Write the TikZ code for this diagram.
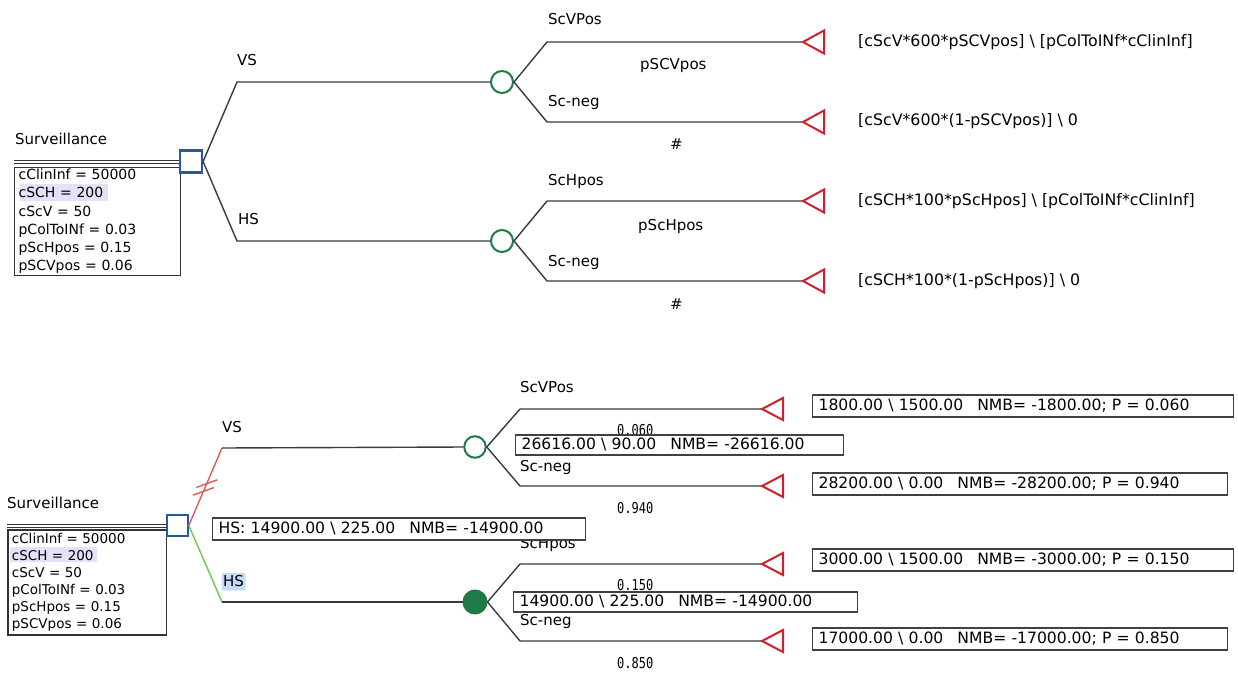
\documentclass[tikz,border=0pt]{standalone}
\usepackage{fontspec}
\setmainfont{DejaVu Sans}
\newfontfamily\probmono[FakeStretch=0.8]{DejaVu Sans Mono}
\usetikzlibrary{calc}
\definecolor{decblue}{HTML}{2A55A8}
\definecolor{chgreen}{HTML}{1F7A45}
\definecolor{termred}{HTML}{D0202E}
\definecolor{optred}{HTML}{E05A5A}
\definecolor{optgreen}{HTML}{6CCB4E}
\definecolor{lineclr}{HTML}{3A3A3A}
\definecolor{hilav}{HTML}{E2E2F8}
\definecolor{hiblue}{HTML}{C6DBF7}
\newcommand\gp{\hspace{0.9em}}
\begin{document}
\begin{tikzpicture}[x=1pt,y=-1pt,
  lbl/.style={anchor=west,inner sep=0,font=\fontsize{15}{18}\selectfont,text height=11,text depth=3},
  expr/.style={lbl,font=\fontsize{15.8}{18}\selectfont},
  prob/.style={anchor=west,inner sep=0,font=\probmono\fontsize{15}{17}\selectfont,text height=11,text depth=0},
  decision/.style={draw=decblue,line width=2.2,fill=white,minimum size=22,inner sep=0},
  chance/.style={circle,draw=chgreen,line width=2,fill=white,minimum size=22,inner sep=0},
  chancefull/.style={chance,fill=chgreen},
  branch/.style={draw=lineclr,line width=1.4},
  termtri/.style={draw=termred,line width=2,line join=miter},
  parambox/.style={draw=black!80,line width=1.2,anchor=north west,align=left,inner xsep=4},
  paybox/.style={draw=black!75,line width=1.2,fill=white,anchor=west,inner xsep=6,inner ysep=0,
    minimum height=22,font=\fontsize{15.6}{18}\selectfont,text height=11.5,text depth=3.5},
  sumbox/.style={paybox,minimum height=20,text height=11.5,text depth=3.5},
  dbl/.style={draw=black!80,line width=0.9}
]
\useasboundingbox (0,0) rectangle (1238,672);

% ================= tree with formulas =================
\node[lbl] (title1) at (15,140) {Surveillance};
\fill[hilav] (20,184) rectangle (108,201);
\node[parambox,text width=158,font=\fontsize{14}{18.3}\selectfont,inner ysep=1.5] (par1) at (14,166.7)
  {cClinInf = 50000\\cSCH = 200\\cScV = 50\\pColToINf = 0.03\\pScHpos = 0.15\\pSCVpos = 0.06};
\node[decision] (sq1) at (191,161.5) {};
\draw[dbl] (14,160.3) -- (sq1.west |- 0,160.3);
\draw[dbl] (14,163.6) -- (sq1.west |- 0,163.6);

\coordinate (vs1) at (237,82);
\coordinate (hs1) at (237,241);
\node[chance] (cv1) at (502,82) {};
\node[chance] (ch1) at (502,241) {};
\draw[branch] (sq1.east) -- (vs1) -- (cv1.west);
\draw[branch] (sq1.east) -- (hs1) -- (ch1.west);

\coordinate (t1) at (803,42);
\coordinate (t2) at (803,122);
\coordinate (t3) at (803,201);
\coordinate (t4) at (803,281);
\coordinate (v1a) at (547,42);
\coordinate (v1b) at (547,122);
\coordinate (h1a) at (547,201);
\coordinate (h1b) at (547,281);
\draw[branch] (cv1.east) -- (v1a) -- (t1);
\draw[branch] (cv1.east) -- (v1b) -- (t2);
\draw[branch] (ch1.east) -- (h1a) -- (t3);
\draw[branch] (ch1.east) -- (h1b) -- (t4);
\foreach \t in {t1,t2,t3,t4}
  \draw[termtri] (\t) -- ++(21,-11.5) -- ++(0,23) -- cycle;

\node[lbl] (lvs1) at (237,61) {VS};
\node[lbl] (lhs1) at (238,220) {HS};
\node[lbl] (lsv1) at (548,20) {ScVPos};
\node[lbl] (lpv1) at (640,65) {pSCVpos};
\node[lbl] (lnv1) at (548,102) {Sc-neg};
\node[lbl] (lhv1) at (670,145) {\#};
\node[lbl] (lsh1) at (548,181) {ScHpos};
\node[lbl] (lph1) at (638,226) {pScHpos};
\node[lbl] (lnh1) at (548,262) {Sc-neg};
\node[lbl] (lhh1) at (670,305) {\#};

\node[expr] (e1) at (858,42) {[cScV*600*pSCVpos] \textbackslash{} [pColToINf*cClinInf]};
\node[expr] (e2) at (858,121) {[cScV*600*(1-pSCVpos)] \textbackslash{} 0};
\node[expr] (e3) at (858,201) {[cSCH*100*pScHpos] \textbackslash{} [pColToINf*cClinInf]};
\node[expr] (e4) at (858,281) {[cSCH*100*(1-pScHpos)] \textbackslash{} 0};

% ================= tree with results =================
\node[lbl] (title2) at (7,504) {Surveillance};
\fill[hilav] (10,546.5) rectangle (97,562);
\node[parambox,text width=150.4,font=\fontsize{13.5}{17}\selectfont,inner ysep=3.5] (par2) at (7.3,529.3)
  {cClinInf = 50000\\cSCH = 200\\cScV = 50\\pColToINf = 0.03\\pScHpos = 0.15\\pSCVpos = 0.06};
\node[decision,minimum size=21] (sq2) at (177.2,525.5) {};
\draw[dbl] (7.3,524) -- (sq2.west |- 0,524);
\draw[dbl] (7.3,527.2) -- (sq2.west |- 0,527.2);

\coordinate (vs2) at (222,448);
\coordinate (hs2) at (222,602);
\node[chance,minimum size=21.5] (cv2) at (475,447) {};
\node[chancefull,minimum size=23] (ch2) at (475,602) {};
\draw[draw=optred,line width=1.4] (sq2.east) -- (vs2);
\draw[draw=optgreen,line width=1.4] (sq2.east) -- (hs2);
\draw[branch] (vs2) -- (cv2.west);
\draw[branch] (hs2) -- (ch2.west);
\coordinate (hk1) at ($(sq2.east)!0.44!(vs2)$);
\coordinate (hk2) at ($(sq2.east)!0.54!(vs2)$);
\foreach \k in {hk1,hk2}
  \draw[draw=optred,line width=1.4] ([shift={(-10.5,3.8)}]\k) -- ([shift={(10.5,-3.8)}]\k);

\coordinate (u1) at (762,409);
\coordinate (u2) at (762,486);
\coordinate (u3) at (762,564);
\coordinate (u4) at (762,641);
\coordinate (v2a) at (520,409);
\coordinate (v2b) at (520,486);
\coordinate (h2a) at (520,564);
\coordinate (h2b) at (520,641);
\draw[branch] (cv2.east) -- (v2a) -- (u1);
\draw[branch] (cv2.east) -- (v2b) -- (u2);
\draw[branch] (ch2.east) -- (h2a) -- (u3);
\draw[branch] (ch2.east) -- (h2b) -- (u4);
\foreach \t in {u1,u2,u3,u4}
  \draw[termtri] (\t) -- ++(21,-11) -- ++(0,22) -- cycle;

\node[lbl] (lvs2) at (222,428) {VS};
\fill[hiblue,rounded corners=1.5] (221.5,573) rectangle (245.5,590.5);
\node[lbl] (lhs2) at (223,582) {HS};
\node[lbl] (lsv2) at (520,388) {ScVPos};
\node[prob] (pv1) at (617,430) {0.060};
\node[lbl] (lnv2) at (520,467) {Sc-neg};
\node[prob] (pv2) at (617,508) {0.940};
\node[lbl] (lsh2) at (520,544) {ScHpos};
\node[prob] (ph1) at (617,585) {0.150};
\node[lbl] (lnh2) at (520,621) {Sc-neg};
\node[prob] (ph2) at (617,663) {0.850};

\node[sumbox,text width=316] (rv) at (515,445) {26616.00 \textbackslash{} 90.00\gp NMB= -26616.00};
\node[sumbox,text width=332] (rh) at (513,602) {14900.00 \textbackslash{} 225.00\gp NMB= -14900.00};
\node[sumbox,minimum height=22,text width=361] (rhs) at (212,529) {HS: 14900.00 \textbackslash{} 225.00\gp NMB= -14900.00};

\node[paybox,text width=409] (p1) at (812,406) {1800.00 \textbackslash{} 1500.00\gp NMB= -1800.00; P = 0.060};
\node[paybox,text width=403] (p2) at (812,484) {28200.00 \textbackslash{} 0.00\gp NMB= -28200.00; P = 0.940};
\node[paybox,text width=409] (p3) at (812,560) {3000.00 \textbackslash{} 1500.00\gp NMB= -3000.00; P = 0.150};
\node[paybox,text width=403] (p4) at (812,639) {17000.00 \textbackslash{} 0.00\gp NMB= -17000.00; P = 0.850};
\end{tikzpicture}
\end{document}
